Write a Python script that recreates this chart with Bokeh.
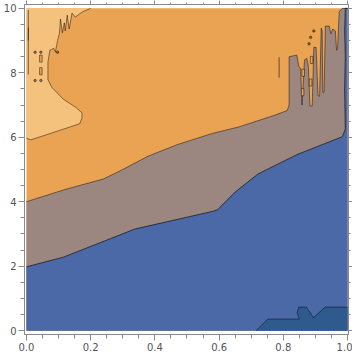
from bokeh.plotting import figure
from bokeh.models import LinearAxis, Range1d, PrintfTickFormatter, FixedTicker
from bokeh.embed import file_html
from bokeh.resources import INLINE

# ---- data (contour boundaries) ----
x_domain = [0.0, 1.0]
y_domain = [0.0, 10.0]

x_ticks = [0.0, 0.2, 0.4, 0.6, 0.8, 1.0]
y_ticks = [0, 2, 4, 6, 8, 10]
x_minor_step = 0.05
y_minor_step = 0.5

# light-orange region (top-left) boundary
light_x = [0.0, 0.014, 0.166, 0.173, 0.173, 0.152, 0.115, 0.079, 0.067, 0.067, 0.073, 0.085,
           0.090, 0.097, 0.103, 0.106, 0.112, 0.118, 0.121, 0.127, 0.133, 0.142, 0.152, 0.176, 0.200]
light_y = [5.97, 5.92, 6.42, 6.60, 6.76, 6.94, 7.18, 7.55, 7.79, 8.33, 8.70, 8.76,
           8.64, 9.00, 9.24, 9.67, 9.24, 9.55, 9.30, 9.79, 9.36, 9.85, 9.73, 9.90, 10.0]

# orange / gray boundary (top of the gray band, jagged on the right)
gray_x = [0.0, 0.12, 0.241, 0.30, 0.378, 0.469, 0.579, 0.661, 0.772, 0.812, 0.818, 0.818,
          0.842, 0.848, 0.854, 0.858, 0.866, 0.873, 0.878, 0.883, 0.890, 0.895, 0.902, 0.908,
          0.913, 0.918, 0.921, 0.923, 0.927, 0.931, 0.943, 0.948, 0.954, 0.962, 0.966, 0.969,
          0.974, 0.984, 1.0]
gray_y = [4.0, 4.38, 4.71, 5.0, 5.41, 5.77, 6.12, 6.32, 6.68, 6.83, 7.0, 8.5,
          8.55, 8.2, 8.15, 7.0, 8.4, 8.45, 8.2, 6.97, 6.97, 8.79, 8.79, 7.3,
          7.27, 9.39, 9.3, 7.39, 7.4, 9.45, 9.45, 9.21, 9.36, 9.3, 8.7, 8.75,
          9.9, 10.0, 10.0]

# gray / blue boundary
blue_x = [0.0, 0.115, 0.337, 0.579, 0.595, 0.65, 0.721, 0.842, 0.984, 0.993, 0.991, 0.993, 0.991, 0.993, 1.0]
blue_y = [1.98, 2.28, 3.15, 3.70, 3.75, 4.30, 4.86, 5.46, 6.02, 6.25, 7.5, 8.5, 9.3, 10.0, 10.0]

# dark-blue region (bottom-right)
dark_x = [0.715, 0.752, 0.850, 0.843, 0.848, 0.872, 0.894, 0.930, 1.0]
dark_y = [0.0, 0.36, 0.36, 0.55, 0.73, 0.73, 0.40, 0.73, 0.73]

# small contour artifacts
seg_x0 = [0.006, 0.787, 0.006]
seg_y0 = [7.95, 7.85, 9.0]
seg_x1 = [0.006, 0.787, 0.006]
seg_y1 = [9.95, 8.48, 9.4]
box_x = [0.045, 0.045, 0.862, 0.885, 0.888, 0.860]
box_y = [8.44, 8.05, 8.00, 7.70, 8.40, 7.40]
dot_x = [0.027, 0.045, 0.027, 0.045, 0.097, 0.880, 0.885, 0.895]
dot_y = [8.64, 8.64, 7.76, 7.76, 8.64, 8.9, 9.1, 9.3]

c_light = "#F5C27D"
c_orange = "#EAA352"
c_gray = "#9B8680"
c_blue = "#4A69A6"
c_dark = "#2E5A8E"
c_line = "#000000"

x0, x1 = x_domain
y0, y1 = y_domain

p = figure(width=352, height=353, output_backend="svg", toolbar_location=None,
           x_range=Range1d(x0 - 0.006, x1 + 0.003), y_range=Range1d(y0 - 0.12, y1 + 0.12),
           min_border_left=0, min_border_right=0, min_border_top=0, min_border_bottom=0,
           x_axis_location=None, y_axis_location=None)
p.grid.visible = False
p.outline_line_color = "#8a8a8a"
p.background_fill_color = "white"
p.border_fill_color = "white"

# filled regions
p.quad(left=[x0], right=[x1], bottom=[y0], top=[y1], fill_color=c_orange, line_color=None)
p.patch(light_x + [x0], light_y + [y1], fill_color=c_light, line_color=None)
p.patch(gray_x + [x1, x0], gray_y + [y0, y0], fill_color=c_gray, line_color=None)
p.patch(blue_x + [x1, x0], blue_y + [y0, y0], fill_color=c_blue, line_color=None)
p.patch(dark_x + [x1], dark_y + [y0], fill_color=c_dark, line_color=None)

# contour lines
for xs, ys, a in [(light_x, light_y, 0.45), (gray_x, gray_y, 0.45), (blue_x, blue_y, 0.6), (dark_x, dark_y, 0.45)]:
    p.line(xs, ys, line_color=c_line, line_alpha=a, line_width=1)
p.segment(seg_x0, seg_y0, seg_x1, seg_y1, line_color=c_line, line_alpha=0.45, line_width=1.2)
p.rect(box_x, box_y, width=0.008, height=0.22, fill_color=c_orange, line_color=c_line,
       line_alpha=0.45, line_width=1)
p.scatter(dot_x, dot_y, size=2.5, color=c_line, alpha=0.4)

axis_color = "#8a8a8a"
label_color = "#555555"

def style(ax, labels=True):
    ax.axis_line_color = axis_color
    ax.major_tick_line_color = axis_color
    ax.minor_tick_line_color = axis_color
    ax.major_tick_out = 6 if labels else 4
    ax.major_tick_in = 0
    ax.minor_tick_out = 4 if labels else 2
    ax.minor_tick_in = 0
    ax.major_label_text_font = "DejaVu Sans"
    ax.major_label_text_font_size = "10px"
    if labels:
        ax.major_label_text_color = label_color
        ax.major_label_standoff = 2
    else:
        ax.major_label_text_color = None
        ax.major_label_text_font_size = "0px"
        ax.major_label_standoff = 0

nx = int(round((x1 - x0) / x_minor_step))
ny = int(round((y1 - y0) / y_minor_step))
xticker = FixedTicker(ticks=x_ticks, minor_ticks=[x0 + i * x_minor_step for i in range(nx + 1)])
yticker = FixedTicker(ticks=y_ticks, minor_ticks=[y0 + i * y_minor_step for i in range(ny + 1)])

bx = LinearAxis(ticker=xticker, formatter=PrintfTickFormatter(format="%.1f"))
style(bx)
p.add_layout(bx, "below")
ly = LinearAxis(ticker=yticker)
style(ly)
p.add_layout(ly, "left")
tx = LinearAxis(ticker=xticker)
style(tx, labels=False)
p.add_layout(tx, "above")
ry = LinearAxis(ticker=yticker)
style(ry, labels=False)
p.add_layout(ry, "right")

open("out.html", "w").write(file_html(p, INLINE))
